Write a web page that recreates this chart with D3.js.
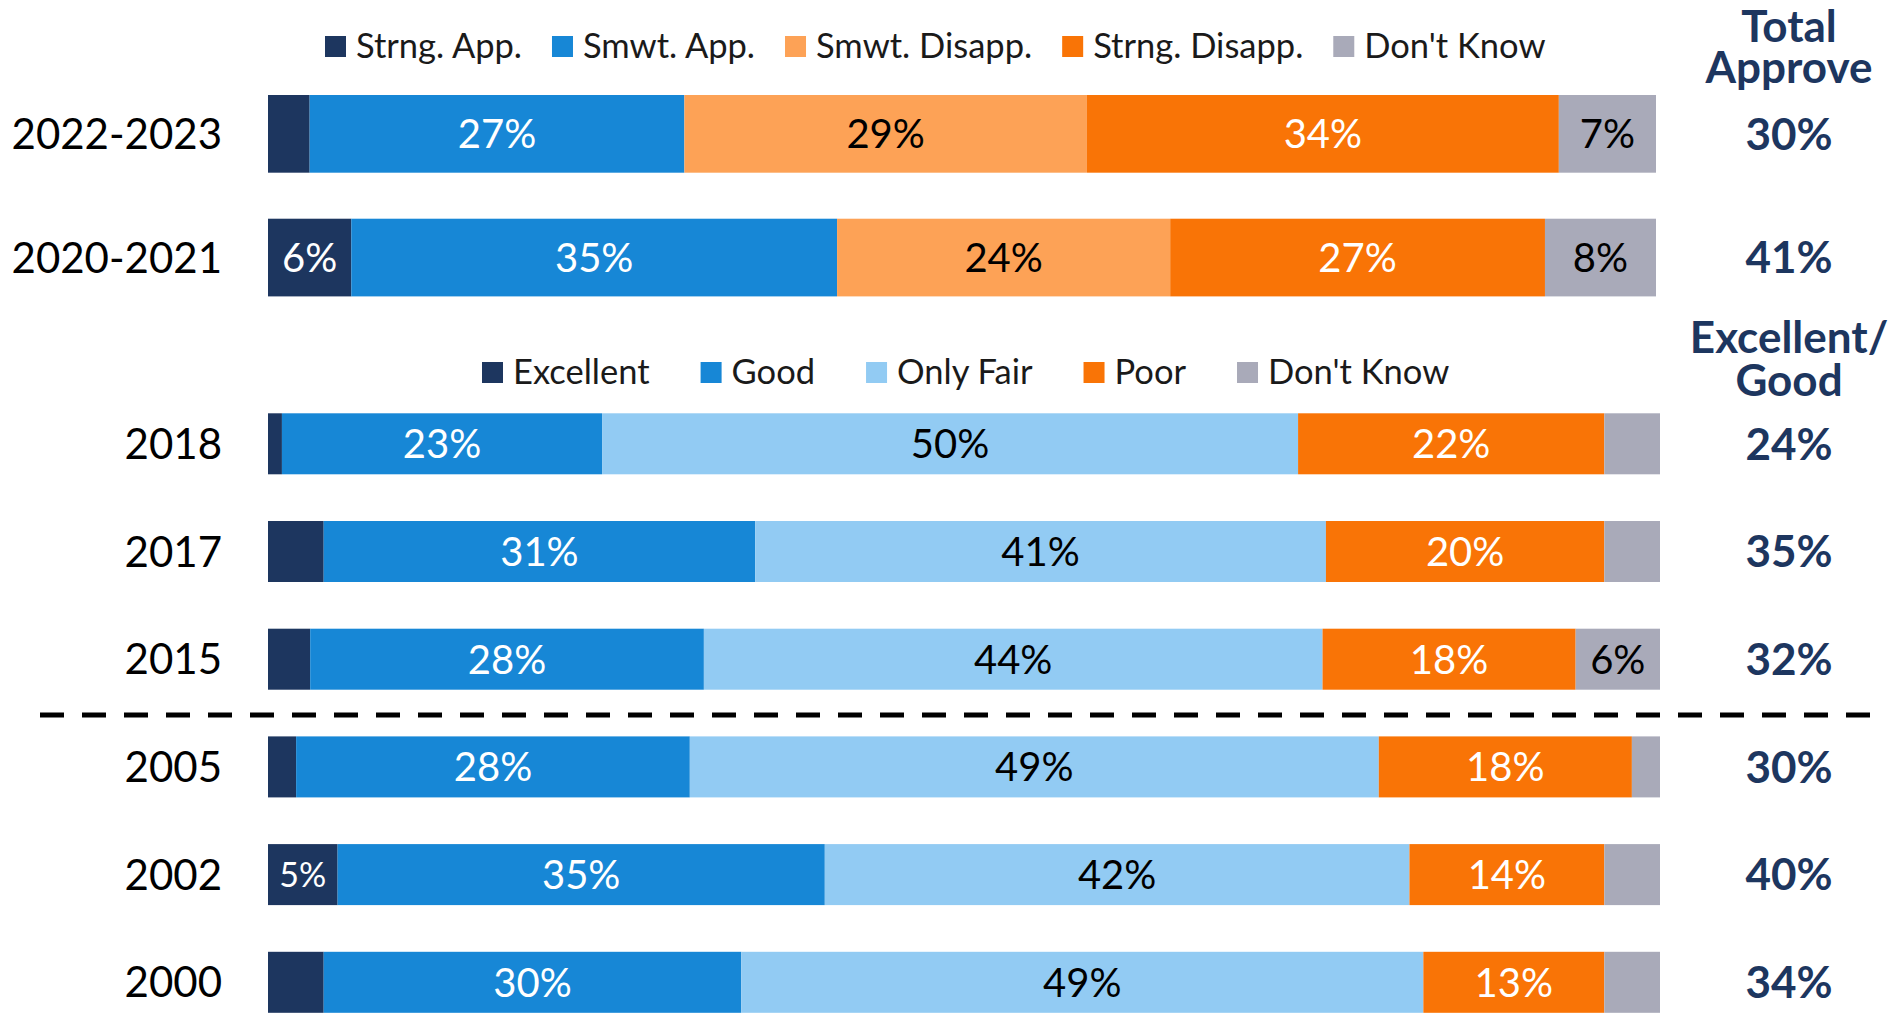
<!DOCTYPE html>
<html>
<head>
<meta charset="utf-8">
<script src="https://cdn.jsdelivr.net/npm/d3@7"></script>
<style>
  html, body { margin: 0; padding: 0; background: #fff; }
  svg { display: block; font-family: Lato, "Noto Sans", sans-serif; }
</style>
</head>
<body>
<svg id="chart" width="1899" height="1013"></svg>
<script>
// approval section
const approveRows = ["2022-2023", "2020-2021"];
const approveKeys = ["Strng. App.", "Smwt. App.", "Smwt. Disapp.", "Strng. Disapp.", "Don't Know"];
const approveValues = [
    [3, 27, 29, 34, 7],
    [6, 35, 24, 27, 8]
];
const approveTotals = ["30%", "41%"];

// rating section
const ratingRows = ["2018", "2017", "2015", "2005", "2002", "2000"];
const ratingKeys = ["Excellent", "Good", "Only Fair", "Poor", "Don't Know"];
const ratingValues = [
    [1, 23, 50, 22, 4],
    [4, 31, 41, 20, 4],
    [3, 28, 44, 18, 6],
    [2, 28, 49, 18, 2],
    [5, 35, 42, 14, 4],
    [4, 30, 49, 13, 4]
];
const ratingTotals = ["24%", "35%", "32%", "30%", "40%", "34%"];

const approveColors = ["#1d365f", "#1787d6", "#fda256", "#f97406", "#a9aab9"];
const ratingColors = ["#1d365f", "#1787d6", "#92cbf3", "#f97406", "#a9aab9"];
const darkFill = new Set(["#1d365f", "#1787d6", "#f97406"]);
const navy = "#1d365f";

const svg = d3.select("#chart");

// baseline offset so text sits centred on a y (Lato cap height ~0.716em)
const mid = size => size * 0.358;

function drawSection(opts) {
    const { rows, keys, values, colors, totals, x0, x1, y0, y1, pad } = opts;

    const table = rows.map((r, i) => {
        const o = { row: r };
        keys.forEach((k, j) => o[k] = values[i][j]);
        return o;
    });

    const stack = d3.stack().keys(keys).offset(d3.stackOffsetExpand);
    const series = stack(table);

    const x = d3.scaleLinear().domain([0, 1]).range([x0, x1]);
    const y = d3.scaleBand().domain(rows).range([y0, y1]).paddingInner(pad).paddingOuter(0);

    const g = svg.append("g");

    // segments
    const layer = g.selectAll(".layer")
        .data(series)
        .enter()
        .append("g")
        .attr("fill", (d, i) => colors[i]);

    layer.selectAll("rect")
        .data(d => d.map(p => ({ p, key: d.key })))
        .enter()
        .append("rect")
        .attr("x", d => x(d.p[0]))
        .attr("y", d => y(d.p.data.row))
        .attr("width", d => x(d.p[1]) - x(d.p[0]))
        .attr("height", y.bandwidth());

    // segment labels, only for the wider pieces
    layer.each(function (s, i) {
        const col = colors[i];
        d3.select(this).selectAll("text")
            .data(s.filter(p => p.data[s.key] >= 5))
            .enter()
            .append("text")
            .attr("x", p => (x(p[0]) + x(p[1])) / 2)
            .attr("text-anchor", "middle")
            .attr("fill", darkFill.has(col) ? "#fff" : "#000")
            .text(p => p.data[s.key] + "%")
            .each(function (p) {
                const w = x(p[1]) - x(p[0]);
                const size = w < 75 ? 34 : 40;
                d3.select(this)
                    .style("font-size", size + "px")
                    .attr("y", y(p.data.row) + y.bandwidth() / 2 + mid(size));
            });
    });

    // row labels
    g.selectAll(".rowLabel")
        .data(rows)
        .enter()
        .append("text")
        .attr("x", 222)
        .attr("y", d => y(d) + y.bandwidth() / 2 + mid(42))
        .attr("text-anchor", "end")
        .style("font-size", "42px")
        .attr("fill", "#000")
        .text(d => d);

    // totals column
    g.selectAll(".total")
        .data(rows)
        .enter()
        .append("text")
        .attr("x", 1789)
        .attr("y", d => y(d) + y.bandwidth() / 2 + mid(44))
        .attr("text-anchor", "middle")
        .style("font-size", "44px")
        .style("font-weight", "bold")
        .attr("fill", navy)
        .text((d, i) => totals[i]);
}

function drawLegend(keys, colors, startX, squareY, gap) {
    const lg = svg.append("g");
    let cx = startX;
    keys.forEach((k, i) => {
        lg.append("rect")
            .attr("x", cx)
            .attr("y", squareY)
            .attr("width", 21)
            .attr("height", 21)
            .attr("fill", colors[i]);
        const t = lg.append("text")
            .attr("x", cx + 31)
            .attr("y", squareY + 21.5)
            .style("font-size", "34.5px")
            .attr("fill", "#1a1a1a")
            .text(k);
        cx += 31 + t.node().getComputedTextLength() + gap;
    });
}

// two-line header over the totals column, one text element
function drawHeader(lines, firstBaseline, lineGap) {
    const t = svg.append("text")
        .attr("x", 1789)
        .attr("y", firstBaseline)
        .attr("text-anchor", "middle")
        .style("font-size", "44px")
        .style("font-weight", "bold")
        .attr("fill", navy);
    lines.forEach((l, i) => {
        t.append("tspan")
            .attr("x", 1789)
            .attr("dy", i === 0 ? 0 : lineGap)
            .text(l);
    });
}

drawSection({
    rows: approveRows, keys: approveKeys, values: approveValues,
    colors: approveColors, totals: approveTotals,
    x0: 268, x1: 1656, y0: 95, y1: 296.4, pad: 0.372
});

drawSection({
    rows: ratingRows, keys: ratingKeys, values: ratingValues,
    colors: ratingColors, totals: ratingTotals,
    x0: 268, x1: 1660, y0: 413.3, y1: 1012.8, pad: 0.4336
});

drawLegend(approveKeys, approveColors, 325, 36, 30);
drawLegend(ratingKeys, ratingColors, 482, 362, 51);

drawHeader(["Total", "Approve"], 41.7, 41.3);
drawHeader(["Excellent/", "Good"], 353, 43);

// divider between recent and older surveys
svg.append("line")
    .attr("x1", 40)
    .attr("x2", 1876)
    .attr("y1", 715)
    .attr("y2", 715)
    .attr("stroke", "#000")
    .attr("stroke-width", 5)
    .attr("stroke-dasharray", "24 18");
</script>
</body>
</html>
